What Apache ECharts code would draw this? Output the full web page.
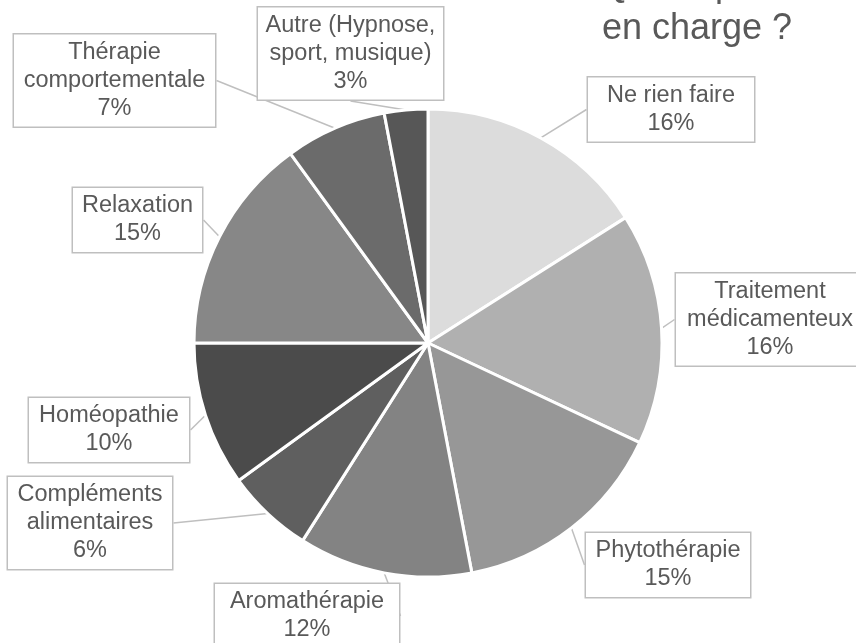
<!DOCTYPE html>
<html>
<head>
<meta charset="utf-8">
<script src="https://cdn.jsdelivr.net/npm/echarts@6/dist/echarts.min.js"></script>
<style>
  html, body { margin: 0; padding: 0; background: #ffffff; }
  #chart { width: 856px; height: 643px; }
</style>
</head>
<body>
<div id="chart"></div>
<script>
// Répartition des modes de prise en charge (en %)
const categories = [
  'Ne rien faire',
  'Traitement\nmédicamenteux',
  'Phytothérapie',
  'Aromathérapie',
  'Compléments\nalimentaires',
  'Homéopathie',
  'Relaxation',
  'Thérapie\ncomportementale',
  'Autre (Hypnose,\nsport, musique)'
];
const values = [16, 16, 15, 12, 6, 10, 15, 7, 3];

// Gray shades of the slices, in the same order
const palette = ['#dcdcdc', '#b0b0b0', '#979797', '#838383', '#5f5f5f',
                 '#4b4b4b', '#878787', '#6b6b6b', '#575757'];

// Callout boxes: centre x, centre y, outer width
const callouts = [
  [671, 109.5, 168],
  [770, 319.5, 190],
  [668, 565, 166],
  [307, 616, 186],
  [90, 523, 166],
  [109, 430, 162],
  [137.5, 220, 131],
  [114.5, 80.5, 203],
  [350.5, 53.5, 187]
];

const FONT = "'Liberation Sans', Arial, Helvetica, sans-serif";
const PAD = 4;

const chart = echarts.init(document.getElementById('chart'), null, { renderer: 'canvas' });

const data = categories.map((name, i) => ({
  name: name,
  value: values[i],
  itemStyle: { color: palette[i] },
  label: { width: callouts[i][2] - 2 * PAD - 2 }
}));

chart.setOption({
  animation: false,
  backgroundColor: '#ffffff',
  graphic: [{
    type: 'text',
    x: 697,
    y: 51,
    silent: true,
    style: {
      text: 'Quelle prise\nen charge ?',
      font: '36px ' + FONT,
      fill: '#595959',
      align: 'center',
      verticalAlign: 'bottom',
      lineHeight: 43
    }
  }],
  series: [{
    type: 'pie',
    center: [428, 343],
    radius: 234,
    startAngle: 90,
    clockwise: true,
    avoidLabelOverlap: false,
    emphasis: { disabled: true },
    itemStyle: { borderColor: '#ffffff', borderWidth: 3 },
    data: data,
    label: {
      show: true,
      position: 'outside',
      formatter: '{b}\n{c}%',
      fontFamily: FONT,
      fontSize: 23.5,
      lineHeight: 28,
      color: '#595959',
      align: 'center',
      backgroundColor: '#ffffff',
      borderColor: '#bfbfbf',
      borderWidth: 1.5,
      padding: [PAD, PAD]
    },
    labelLine: {
      show: true,
      length: 10,
      length2: 0,
      smooth: false,
      lineStyle: { color: '#bfbfbf', width: 1.5 }
    },
    labelLayout: function (params) {
      const c = callouts[params.dataIndex];
      return { x: c[0], y: c[1], align: 'center', verticalAlign: 'middle' };
    }
  }]
});
</script>
</body>
</html>
